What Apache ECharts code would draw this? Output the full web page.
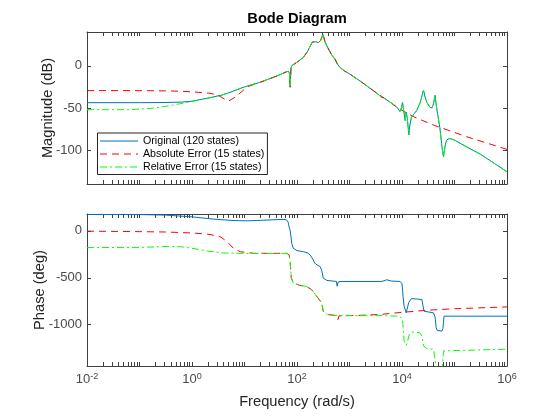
<!DOCTYPE html>
<html>
<head>
<meta charset="utf-8">
<script src="https://cdn.jsdelivr.net/npm/echarts@6/dist/echarts.min.js"></script>
<style>
html,body{margin:0;padding:0;background:#fff;}
#chart{width:560px;height:420px;}
</style>
</head>
<body>
<div id="chart"></div>
<script>
// ---- data (frequency given as log10 of rad/s) ----
const seriesNames = ['Original (120 states)', 'Absolute Error (15 states)', 'Relative Error (15 states)'];

const magOrigLogW = [-2,-1,-0.5,-0.2,0,0.2,0.4,0.55,0.7,1.0,1.3,1.6,1.75,1.8,1.84,1.855,1.87,1.885,1.9,1.96,2.04,2.12,2.2,2.25,2.29,2.31,2.35,2.41,2.45,2.48,2.49,2.51,2.53,2.57,2.65,2.72,2.77,2.82,2.9,3.01,3.2,3.4,3.55,3.6,3.62,3.65,3.77,3.9,3.96,3.99,4.01,4.03,4.06,4.08,4.1,4.13,4.15,4.18,4.24,4.28,4.35,4.39,4.41,4.44,4.47,4.53,4.57,4.6,4.63,4.66,4.72,4.76,4.79,4.82,4.85,4.9,5.0,5.2,5.5,6.0];
const magOrig     = [-43.7,-43.7,-43.5,-43,-42,-39.5,-37,-35,-32,-25,-19.5,-12.5,-8.5,-7,-6.5,-9,-25.5,-3,0,2.5,6,10,17,23,28,29.5,28.5,27.5,30,35,37.5,34,29,23.5,14,8,2,-2,-6,-10,-18,-27,-34,-37,-39,-38,-43,-49,-54,-50,-43,-52,-65,-55,-62,-82,-70,-61,-56,-53,-43,-33,-29,-37,-43,-49,-50,-45,-35,-50,-73,-95,-108,-95,-88,-86,-88,-95,-105,-125.5];

const magAbsLogW = [-2,-1,-0.4,0,0.34,0.5,0.69,0.8,0.95,1.05,1.3,1.6,1.75,1.8,1.84,1.855,1.87,1.885,1.9,1.96,2.04,2.12,2.2,2.25,2.29,2.31,2.35,2.41,2.45,2.48,2.49,2.51,2.53,2.57,2.65,2.72,2.745,2.77,2.82,2.9,3.01,3.2,3.4,3.58,3.77,3.98,4.21,4.59,5.23,6.0];
const magAbs     = [-29.4,-29.4,-29.8,-30.8,-32.5,-35,-42,-38,-30.5,-25,-19.5,-12.5,-8.5,-7,-6.5,-9,-25.5,-3,0,2.5,6,10,17,23,28,29.5,28.5,27.5,30,35,37.5,34,29,23.5,14,8.5,9.5,2,-2,-6,-10,-18,-27,-35,-43,-52,-60,-70,-84,-99];

const magRelLogW = [-2,-1.2,-0.8,-0.5,-0.23,0.09,0.3,0.55,0.7,1.0,1.3,1.6,1.75,1.8,1.84,1.855,1.87,1.885,1.9,1.96,2.04,2.12,2.2,2.25,2.29,2.31,2.35,2.41,2.45,2.48,2.49,2.51,2.53,2.57,2.65,2.72,2.77,2.82,2.9,3.01,3.2,3.4,3.55,3.6,3.62,3.65,3.77,3.9,3.96,3.99,4.01,4.03,4.06,4.08,4.1,4.13,4.15,4.18,4.24,4.28,4.35,4.39,4.41,4.44,4.47,4.53,4.57,4.6,4.63,4.66,4.72,4.76,4.79,4.82,4.85,4.9,5.0,5.2,5.5,6.0];
const magRel     = [-52,-52,-50.5,-48,-45,-41,-38.5,-35,-32,-25,-19.5,-12.5,-8.5,-7,-6.5,-9,-25.5,-3,0,2.5,6,10,17,23,28,29.5,28.5,27.5,30,35,37.5,34,29,23.5,14,8,2,-2,-6,-10,-18,-27,-34,-37,-39,-38,-43,-49,-54,-50,-43,-52,-65,-55,-62,-82,-70,-61,-56,-53,-43,-33,-29,-37,-43,-49,-50,-45,-35,-50,-73,-95,-108,-95,-88,-86,-88,-95,-105,-125.5];

const phOrigLogW = [-2,-1,-0.5,0,0.4,0.8,1.05,1.3,1.6,1.75,1.8,1.83,1.85,1.87,1.9,1.93,2.0,2.12,2.2,2.25,2.3,2.34,2.4,2.44,2.47,2.5,2.57,2.75,2.765,2.78,2.82,3.58,3.62,3.65,3.71,3.8,3.96,4.0,4.02,4.04,4.08,4.1,4.13,4.14,4.18,4.3,4.38,4.4,4.42,4.6,4.63,4.65,4.67,4.76,4.78,4.8,6.0];
const phOrig     = [176,174,168,150,126,110,107,112,120,122,118,95,40,7,-133,-186,-210,-222,-235,-257,-300,-345,-370,-380,-420,-503,-528,-539,-590,-548,-539,-539,-538,-527,-521,-535,-539,-560,-700,-803,-873,-856,-760,-740,-722,-727,-732,-800,-856,-873,-920,-1030,-1060,-1067,-1040,-909,-909];

const phAbsLogW = [-2,-1,-0.5,0,0.3,0.45,0.55,0.67,0.79,0.92,1.18,1.81,1.85,1.87,1.89,1.93,2.05,2.18,2.28,2.35,2.4,2.47,2.5,2.57,2.76,2.78,2.8,3.2,3.6,3.96,4.5,5.0,6.0];
const phAbs     = [-3,-8,-12,-22,-35,-50,-66,-116,-186,-222,-239,-239,-255,-330,-500,-556,-580,-592,-627,-680,-715,-768,-856,-891,-903,-944,-905,-900,-890,-870,-845,-830,-810];

const phRelLogW = [-2,-1,-0.4,-0.2,0,0.3,0.6,1.0,1.81,1.85,1.87,1.89,1.93,2.05,2.18,2.28,2.35,2.4,2.47,2.5,2.57,2.76,3.58,3.96,4.01,4.04,4.08,4.1,4.14,4.18,4.34,4.38,4.41,4.47,4.6,4.63,4.66,4.76,4.79,4.82,6.0];
const phRel     = [-178,-176,-165,-170,-185,-215,-235,-240,-240,-255,-330,-500,-556,-580,-592,-627,-680,-715,-768,-856,-891,-903,-903,-909,-944,-1173,-1219,-1190,-1102,-1078,-1085,-1120,-1226,-1254,-1261,-1367,-1520,-1520,-1279,-1261,-1261];

const xTickExps = [-2,-1,0,1,2,3,4,5,6];
const xLabelExps = [-2,0,2,4,6];
const magTicks = [-100,-50,0];
const phaseTicks = [-1000,-500,0];

// ---- build ----
function pairs(logw, vals){ return logw.map((e,i)=>[Math.pow(10,e), vals[i]]); }
const xMajor = xTickExps.map(e=>Math.pow(10,e));
const xMinor = [];
xTickExps.slice(0,-1).forEach(e=>{ for(let k=2;k<=9;k++) xMinor.push(k*Math.pow(10,e)); });
const xTickVals = xMajor.concat(xMinor).sort((a,b)=>a-b);
const xLabelVals = xLabelExps.map(e=>Math.pow(10,e));

const FONT = 'Liberation Sans, Arial, Helvetica, sans-serif';
const AX = '#404040';
const TXT = '#4a4a4a';

function xAxisCfg(gi, pos, showLabel, name){
  return {
    type:'log', logBase:10, gridIndex:gi, position:pos, min:0.01, max:1e6,
    axisLine:{show:true, onZero:false, lineStyle:{color:AX, width:1}},
    axisTick:{show:true, inside:true, length:4, customValues:xTickVals, lineStyle:{color:AX}},
    minorTick:{show:false}, splitLine:{show:false},
    axisLabel:{show:showLabel, customValues:xLabelVals, margin:6, color:TXT, fontFamily:FONT,
      formatter:function(v){ const e=Math.round(Math.log10(v)); return '{b|10}{s|'+e+'}'; },
      rich:{b:{fontSize:13, fontFamily:FONT, color:TXT}, s:{fontSize:9, fontFamily:FONT, color:TXT, verticalAlign:'top', padding:[0,0,5,0]}}},
    name:name||'', nameLocation:'middle', nameGap:28, nameMoveOverlap:false,
    nameTextStyle:{fontSize:14.67, fontFamily:FONT, color:'#262626'}
  };
}
function yAxisCfg(gi, pos, min, max, ticks, showLabel, name, gap){
  return {
    type:'value', gridIndex:gi, position:pos, min:min, max:max,
    axisLine:{show:true, onZero:false, lineStyle:{color:AX, width:1}},
    axisTick:{show:true, inside:true, length:4, customValues:ticks, lineStyle:{color:AX}},
    splitLine:{show:false},
    axisLabel:{show:showLabel, customValues:ticks, margin:5, fontSize:13, fontFamily:FONT, color:TXT,
      formatter:function(v){ return String(v); }},
    name:name||'', nameLocation:'middle', nameGap:gap||30, nameMoveOverlap:false,
    nameTextStyle:{fontSize:14.67, fontFamily:FONT, color:'#262626'}
  };
}

const BLUE='#0072BD', RED='#FF0000', GREEN='#00FF00';
const DASH=[7,5], DASHDOT=[7,3,2,3];
function line(name, xi, yi, data, color, type, z){
  return {name:name, type:'line', xAxisIndex:xi, yAxisIndex:yi, data:data, symbol:'none', showSymbol:false,
    lineStyle:{color:color, width:1, type:type}, itemStyle:{color:color}, z:z, clip:true, animation:false};
}

const option = {
  animation:false,
  title:{text:'Bode Diagram', left:297, top:11, textAlign:'center', padding:0,
    textStyle:{fontSize:14.67, fontWeight:'bold', fontFamily:FONT, color:'#000'}},
  grid:[{left:87, top:32, width:420, height:152}, {left:87, top:214, width:420, height:152}],
  xAxis:[xAxisCfg(0,'bottom',false), xAxisCfg(1,'bottom',true,'Frequency (rad/s)'), xAxisCfg(0,'top',false), xAxisCfg(1,'top',false)],
  yAxis:[yAxisCfg(0,'left',-140,40,magTicks,true,'Magnitude (dB)',32), yAxisCfg(1,'left',-1440,180,phaseTicks,true,'Phase (deg)',40),
         yAxisCfg(0,'right',-140,40,magTicks,false), yAxisCfg(1,'right',-1440,180,phaseTicks,false)],
  legend:{data:seriesNames, orient:'vertical', left:97.5, top:133, itemWidth:38, itemHeight:10, itemGap:2,
    padding:[2.5,3,2,2], borderColor:'#262626', borderWidth:1, backgroundColor:'#fff', selectedMode:false,
    itemStyle:{opacity:0, borderWidth:0}, lineStyle:{width:1},
    textStyle:{fontSize:10.67, fontFamily:FONT, color:'#000'}, z:10},
  series:[
    line(seriesNames[0],0,0,pairs(magOrigLogW,magOrig),BLUE,'solid',2),
    line(seriesNames[1],0,0,pairs(magAbsLogW,magAbs),RED,DASH,3),
    line(seriesNames[2],0,0,pairs(magRelLogW,magRel),GREEN,DASHDOT,4),
    line(seriesNames[0],1,1,pairs(phOrigLogW,phOrig),BLUE,'solid',2),
    line(seriesNames[1],1,1,pairs(phAbsLogW,phAbs),RED,DASH,3),
    line(seriesNames[2],1,1,pairs(phRelLogW,phRel),GREEN,DASHDOT,4)
  ]
};
const chart = echarts.init(document.getElementById('chart'), null, {renderer:'canvas'});
chart.setOption(option);
</script>
</body>
</html>
